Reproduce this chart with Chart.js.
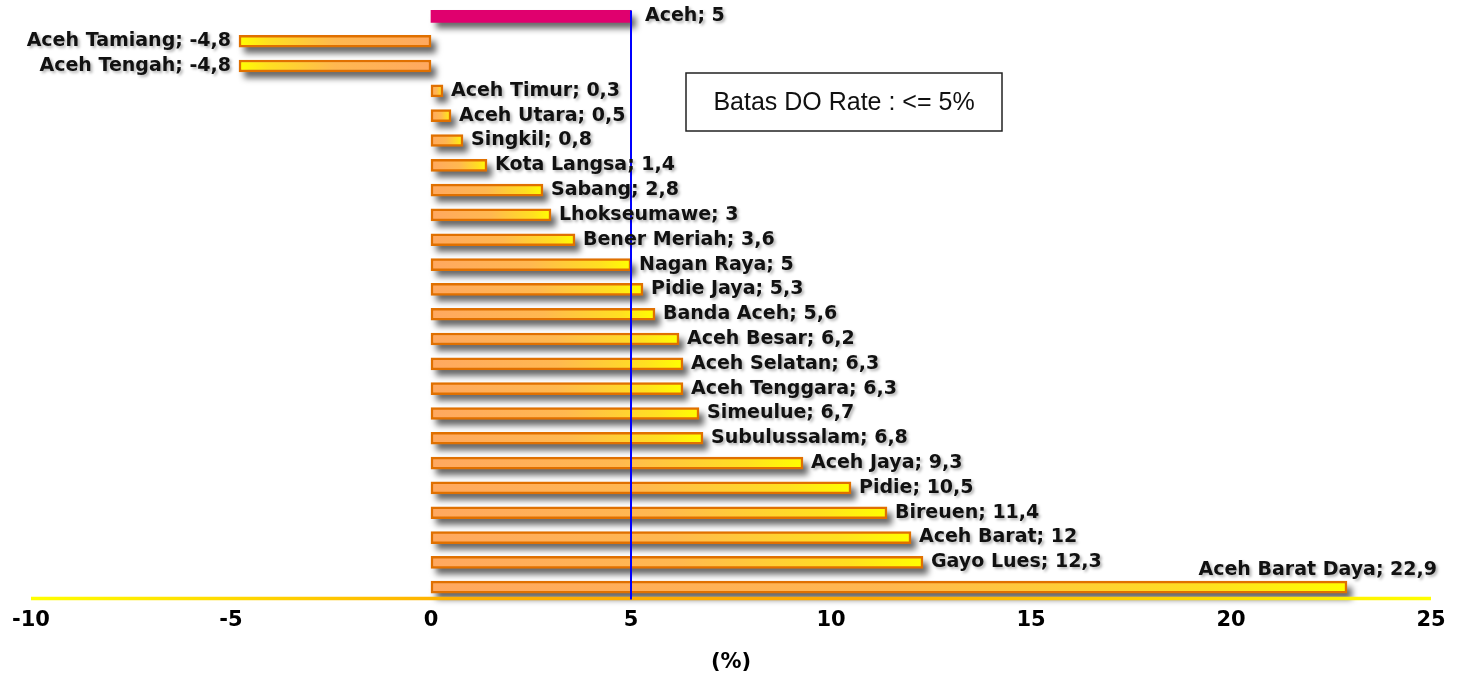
<!DOCTYPE html>
<html>
<head>
<meta charset="utf-8">
<script src="https://cdn.jsdelivr.net/npm/chart.js@4"></script>
<style>
  html, body { margin: 0; padding: 0; background: #fff; }
  #wrap { width: 1459px; height: 675px; position: relative; }
</style>
</head>
<body>
<div id="wrap"><canvas id="doChart"></canvas></div>
<script>
// Data
const kabupaten = ["Aceh", "Aceh Tamiang", "Aceh Tengah", "Aceh Timur", "Aceh Utara", "Singkil",
    "Kota Langsa", "Sabang", "Lhokseumawe", "Bener Meriah", "Nagan Raya", "Pidie Jaya",
    "Banda Aceh", "Aceh Besar", "Aceh Selatan", "Aceh Tenggara", "Simeulue", "Subulussalam",
    "Aceh Jaya", "Pidie", "Bireuen", "Aceh Barat", "Gayo Lues", "Aceh Barat Daya"];
const doRate = [5, -4.8, -4.8, 0.3, 0.5, 0.8, 1.4, 2.8, 3, 3.6, 5, 5.3, 5.6, 6.2, 6.3, 6.3,
    6.7, 6.8, 9.3, 10.5, 11.4, 12, 12.3, 22.9];
const xTicks = [-10, -5, 0, 5, 10, 15, 20, 25];
const batas = 5;
const batasText = "Batas DO Rate : <= 5%";
const axisTitle = "(%)";

const FONT = "'Liberation Sans', Arial, sans-serif";
const BOLD = "'DejaVu Sans', Verdana, sans-serif";

function fmt(v) {
    return String(v).replace(".", ",");
}

// gradient fill per bar: light orange at the base, yellow at the tip
function barFill(ctx) {
    if (ctx.dataIndex === 0) return "#e0006e";
    const chart = ctx.chart;
    const xs = chart.scales.x;
    if (!chart.chartArea || !xs) return "#ffc040";
    const x0 = xs.getPixelForValue(0);
    const x1 = xs.getPixelForValue(ctx.raw);
    if (Math.abs(x1 - x0) < 1) return "#ffd020";
    const g = chart.ctx.createLinearGradient(x0, 0, x1, 0);
    g.addColorStop(0, "#ffa860");
    g.addColorStop(0.5, "#ffb850");
    g.addColorStop(0.85, "#ffe020");
    g.addColorStop(1, "#ffff00");
    return g;
}

// soft shadow under the bars
const shadowPlugin = {
    id: "barShadow",
    beforeDatasetsDraw(chart) {
        const ctx = chart.ctx;
        const meta = chart.getDatasetMeta(0);
        ctx.save();
        ctx.filter = "blur(3px)";
        ctx.fillStyle = "rgba(0,0,0,0.6)";
        meta.data.forEach(el => {
            const l = Math.min(el.x, el.base), r = Math.max(el.x, el.base);
            ctx.fillRect(l + 5, el.y - el.height / 2 + 6, r - l, el.height);
        });
        ctx.restore();
    }
};

// axis line, limit line, labels and the note box
const decorPlugin = {
    id: "decor",
    afterDatasetsDraw(chart) {
        const ctx = chart.ctx;
        const xs = chart.scales.x;
        const area = chart.chartArea;
        const meta = chart.getDatasetMeta(0);

        // yellow/orange base line
        const yb = area.bottom - 1;
        const g = ctx.createLinearGradient(xs.left, 0, xs.right, 0);
        g.addColorStop(0, "#ffff00");
        g.addColorStop(0.3, "#ffb000");
        g.addColorStop(0.6, "#ffa800");
        g.addColorStop(1, "#ffff00");
        ctx.save();
        ctx.strokeStyle = g;
        ctx.lineWidth = 3.5;
        ctx.beginPath();
        ctx.moveTo(xs.getPixelForValue(xTicks[0]), yb);
        ctx.lineTo(xs.getPixelForValue(xTicks[xTicks.length - 1]), yb);
        ctx.stroke();

        // blue limit line
        const xl = xs.getPixelForValue(batas);
        const first = meta.data[0];
        ctx.strokeStyle = "#0000ff";
        ctx.lineWidth = 2;
        ctx.beginPath();
        ctx.moveTo(xl, first.y - first.height / 2);
        ctx.lineTo(xl, area.bottom);
        ctx.stroke();

        // data labels
        ctx.font = "bold 19px " + BOLD;
        ctx.fillStyle = "#111";
        ctx.textBaseline = "middle";
        ctx.shadowColor = "rgba(0,0,0,0.3)";
        ctx.shadowBlur = 3;
        ctx.shadowOffsetX = 2;
        ctx.shadowOffsetY = 2;
        meta.data.forEach((el, i) => {
            const txt = kabupaten[i] + "; " + fmt(doRate[i]);
            const w = ctx.measureText(txt).width;
            if (doRate[i] < 0) {
                ctx.textAlign = "right";
                ctx.fillText(txt, el.x - 8, el.y);
            } else if (el.x + 8 + w > chart.width - 15) {
                ctx.textAlign = "right";
                ctx.fillText(txt, chart.width - 22, el.y - 17);
            } else {
                ctx.textAlign = "left";
                ctx.fillText(txt, el.x + 8 + (i === 0 ? 6 : 0), el.y);
            }
        });
        ctx.restore();

        // note box
        ctx.save();
        const bx = xs.getPixelForValue(6.375), by = 73, bw = 316, bh = 58;
        ctx.fillStyle = "#fff";
        ctx.fillRect(bx, by, bw, bh);
        ctx.strokeStyle = "#222";
        ctx.lineWidth = 1.5;
        ctx.strokeRect(bx, by, bw, bh);
        ctx.fillStyle = "#111";
        ctx.font = "25px " + FONT;
        ctx.textAlign = "center";
        ctx.textBaseline = "middle";
        ctx.fillText(batasText, bx + bw / 2, by + bh / 2 + 1);
        ctx.restore();
    }
};

new Chart(document.getElementById("doChart"), {
    type: "bar",
    data: {
        labels: kabupaten,
        datasets: [{
            label: "DO Rate",
            data: doRate,
            backgroundColor: barFill,
            borderColor: ctx => ctx.dataIndex === 0 ? "#e0006e" : "#e07000",
            borderWidth: ctx => ctx.dataIndex === 0 ? 0 : 2.5,
            borderSkipped: false,
            barThickness: 12
        }]
    },
    options: {
        indexAxis: "y",
        responsive: true,
        maintainAspectRatio: false,
        animation: false,
        layout: { padding: { top: 4, left: 31, right: 28, bottom: 0 } },
        plugins: {
            legend: { display: false },
            tooltip: { enabled: false }
        },
        scales: {
            x: {
                min: xTicks[0],
                max: xTicks[xTicks.length - 1],
                afterBuildTicks: axis => { axis.ticks = xTicks.map(v => ({ value: v })); },
                grid: { display: false, drawTicks: false },
                border: { display: false },
                ticks: {
                    color: "#000",
                    padding: 8,
                    font: { family: BOLD, size: 21, weight: "bold" }
                },
                title: {
                    display: true,
                    text: axisTitle,
                    color: "#000",
                    padding: { top: 9, bottom: 0 },
                    font: { family: BOLD, size: 21, weight: "bold" }
                }
            },
            y: {
                display: false,
                grid: { display: false }
            }
        }
    },
    plugins: [shadowPlugin, decorPlugin]
});
</script>
</body>
</html>
